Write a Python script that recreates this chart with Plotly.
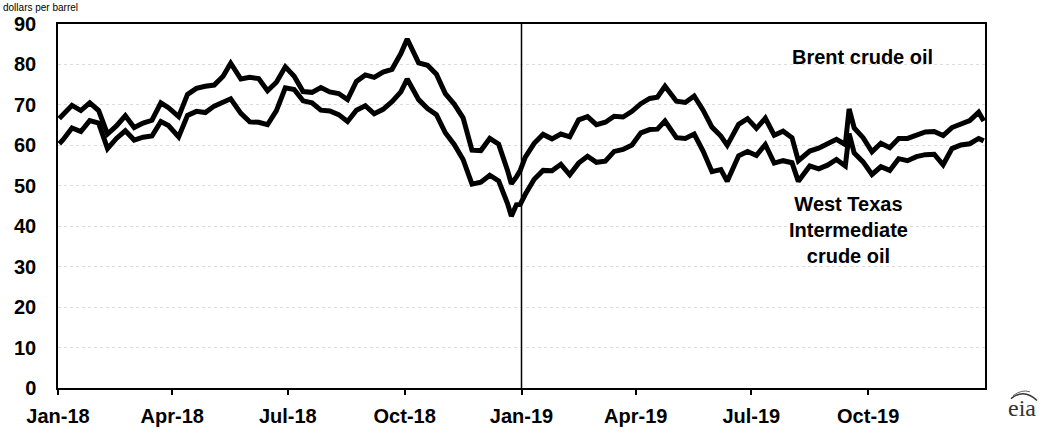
import plotly.graph_objects as go

dates = [
    "2018-01-02", "2018-01-05", "2018-01-12", "2018-01-19", "2018-01-26", "2018-02-02", "2018-02-09",
    "2018-02-16", "2018-02-23", "2018-03-02", "2018-03-09", "2018-03-16", "2018-03-23", "2018-03-29",
    "2018-04-06", "2018-04-13", "2018-04-20", "2018-04-27", "2018-05-04", "2018-05-11", "2018-05-17",
    "2018-05-25", "2018-06-01", "2018-06-08", "2018-06-15", "2018-06-22", "2018-06-29", "2018-07-06",
    "2018-07-13", "2018-07-20", "2018-07-27", "2018-08-03", "2018-08-10", "2018-08-17", "2018-08-24",
    "2018-08-31", "2018-09-07", "2018-09-14", "2018-09-21", "2018-09-28", "2018-10-03", "2018-10-12",
    "2018-10-19", "2018-10-26", "2018-11-02", "2018-11-09", "2018-11-16", "2018-11-23", "2018-11-30",
    "2018-12-07", "2018-12-14", "2018-12-21", "2018-12-24", "2018-12-28", "2018-12-31",
    "2019-01-04", "2019-01-11", "2019-01-18", "2019-01-25", "2019-02-01", "2019-02-08", "2019-02-15",
    "2019-02-22", "2019-03-01", "2019-03-08", "2019-03-15", "2019-03-22", "2019-03-29", "2019-04-05",
    "2019-04-12", "2019-04-18", "2019-04-24", "2019-05-03", "2019-05-10", "2019-05-17", "2019-05-24",
    "2019-05-31", "2019-06-07", "2019-06-12", "2019-06-21", "2019-06-28", "2019-07-05", "2019-07-12",
    "2019-07-19", "2019-07-26", "2019-08-02", "2019-08-07", "2019-08-16", "2019-08-23", "2019-08-30",
    "2019-09-06", "2019-09-13", "2019-09-16", "2019-09-20", "2019-09-27", "2019-10-04", "2019-10-11",
    "2019-10-18", "2019-10-25", "2019-11-01", "2019-11-08", "2019-11-15", "2019-11-22", "2019-11-29",
    "2019-12-06", "2019-12-13", "2019-12-20", "2019-12-27", "2019-12-31",
]

brent = [
    66.6, 67.6, 69.9, 68.6, 70.5, 68.6, 62.8,
    64.8, 67.3, 64.4, 65.5, 66.2, 70.5, 69.3,
    67.1, 72.6, 74.1, 74.6, 74.9, 77.1, 80.3,
    76.4, 76.8, 76.5, 73.5, 75.6, 79.4, 77.1,
    73.3, 73.1, 74.3, 73.2, 72.8, 71.3, 75.8,
    77.4, 76.8, 78.1, 78.8, 82.7, 86.3, 80.4,
    79.8, 77.6, 72.8, 70.2, 66.8, 58.8, 58.7,
    61.7, 60.3, 53.8, 50.5, 52.2, 53.8,
    57.1, 60.5, 62.7, 61.6, 62.8, 62.1, 66.3,
    67.1, 65.1, 65.7, 67.2, 67.0, 68.4, 70.3,
    71.6, 71.9, 74.6, 70.9, 70.6, 72.2, 68.7,
    64.5, 62.3, 60.0, 65.2, 66.6, 64.2, 66.7,
    62.5, 63.5, 61.9, 56.2, 58.6, 59.3, 60.4,
    61.5, 60.2, 69.0, 64.3, 61.9, 58.4, 60.5,
    59.4, 61.7, 61.7, 62.5, 63.3, 63.4, 62.4,
    64.4, 65.2, 66.1, 68.2, 66.0,
]

wti = [
    60.4, 61.4, 64.3, 63.4, 66.1, 65.5, 59.2,
    61.7, 63.6, 61.3, 62.0, 62.3, 65.9, 64.9,
    62.1, 67.4, 68.4, 68.1, 69.7, 70.7, 71.5,
    67.9, 65.8, 65.7, 65.1, 68.6, 74.2, 73.8,
    71.0, 70.5, 68.7, 68.5, 67.6, 65.9, 68.7,
    69.8, 67.8, 68.9, 70.8, 73.2, 76.4, 71.3,
    69.1, 67.6, 63.1, 60.2, 56.5, 50.4, 50.9,
    52.6, 51.2, 45.6, 42.5, 45.3, 45.4,
    47.9, 51.6, 53.8, 53.7, 55.3, 52.7, 55.6,
    57.3, 55.8, 56.1, 58.5, 59.0, 60.1, 63.1,
    63.9, 64.0, 66.0, 61.9, 61.7, 62.8, 58.6,
    53.5, 54.0, 51.1, 57.4, 58.5, 57.5, 60.2,
    55.6, 56.2, 55.7, 51.1, 54.9, 54.2, 55.1,
    56.5, 54.9, 62.9, 58.1, 55.9, 52.8, 54.7,
    53.8, 56.7, 56.2, 57.2, 57.7, 57.8, 55.2,
    59.2, 60.1, 60.4, 61.7, 61.1,
]

tick_dates = ["2018-01-01", "2018-04-01", "2018-07-01", "2018-10-01",
              "2019-01-01", "2019-04-01", "2019-07-01", "2019-10-01"]
tick_labels = ["Jan-18", "Apr-18", "Jul-18", "Oct-18", "Jan-19", "Apr-19", "Jul-19", "Oct-19"]
y_ticks = [0, 10, 20, 30, 40, 50, 60, 70, 80, 90]

FONT = "Arial, Liberation Sans, sans-serif"
TXT = 20

# plot-area pixel frame (for placing decorations)
L, R, T, B = 58, 985, 24, 403


def px(x):
    return (x - L) / (R - L)


def py(y):
    return (B - y) / (B - T)


fig = go.Figure()
fig.add_trace(go.Scatter(x=dates, y=brent, mode="lines", name="Brent crude oil",
                         line=dict(color="black", width=5)))
fig.add_trace(go.Scatter(x=dates, y=wti, mode="lines", name="West Texas Intermediate crude oil",
                         line=dict(color="black", width=5)))

# Jan-19 divider
fig.add_shape(type="line", xref="x", yref="paper", x0="2019-01-01", x1="2019-01-01",
              y0=0, y1=1, line=dict(color="black", width=1.5))

# eia logo arc
fig.add_shape(type="path", xref="paper", yref="paper",
              path=f"M {px(1011)},{py(414)} Q {px(1024)},{py(403)} {px(1037)},{py(416)}",
              line=dict(color="#333", width=1.5))
fig.add_shape(type="path", xref="paper", yref="paper",
              path=f"M {px(1013)},{py(411)} Q {px(1022)},{py(404)} {px(1030)},{py(407)}",
              line=dict(color="#666", width=1))

fig.update_layout(
    width=1044, height=439,
    margin=dict(l=L, r=1044 - R, t=T, b=439 - B),
    paper_bgcolor="white", plot_bgcolor="white",
    showlegend=False,
    font=dict(family=FONT, size=TXT, color="black"),
    xaxis=dict(
        range=["2018-01-01", "2020-01-01"],
        tickvals=tick_dates, ticktext=tick_labels,
        tickfont=dict(family=FONT, size=TXT, color="black", weight="bold"),
        ticks="outside", ticklen=5, tickcolor="black", tickwidth=1.5,
        ticklabelstandoff=4,
        showline=True, linecolor="black", linewidth=1.5, mirror=True,
        showgrid=False, zeroline=False,
    ),
    yaxis=dict(
        range=[0, 90], tickvals=y_ticks,
        tickfont=dict(family=FONT, size=TXT, color="black", weight="bold"),
        ticks="", ticklabelstandoff=16,
        showline=True, linecolor="black", linewidth=1.5, mirror=True,
        showgrid=True, gridcolor="#dcdcdc", gridwidth=1, griddash="dot",
        zeroline=False,
    ),
    annotations=[
        dict(text="dollars per barrel", xref="paper", yref="paper", x=0, y=py(0),
             xanchor="left", yanchor="top", xshift=-L + 2, yshift=0, showarrow=False,
             borderpad=0, font=dict(family=FONT, size=10, color="black")),
        dict(text="<b>Brent crude oil</b>", xref="paper", yref="paper", x=px(862),
             y=py(58), xanchor="center", yanchor="middle", showarrow=False,
             font=dict(family=FONT, size=TXT, color="black")),
        dict(text="<b>West Texas<br>Intermediate<br>crude oil</b>", xref="paper", yref="paper",
             x=px(848), y=py(238), xanchor="center", yanchor="middle",
             showarrow=False, align="center",
             font=dict(family=FONT, size=TXT, color="black")),
        dict(text="eia", xref="paper", yref="paper", x=px(1022), y=py(424),
             xanchor="center", yanchor="middle", showarrow=False,
             font=dict(family="Liberation Serif, serif", size=24, color="#333")),
    ],
)

fig.write_html("out.html", post_script="document.body.style.margin='0';",
               config={"displayModeBar": False})
